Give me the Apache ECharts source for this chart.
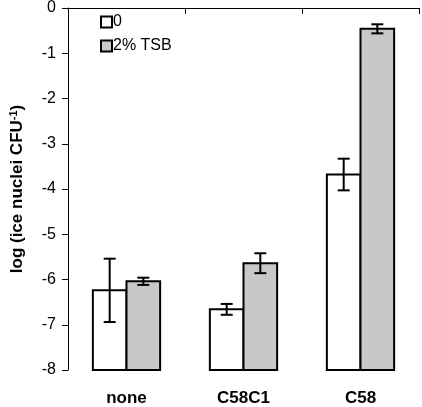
<!DOCTYPE html>
<html><head><meta charset="utf-8">
<script src="https://cdn.jsdelivr.net/npm/echarts@6/dist/echarts.min.js"></script>
<style>html,body{margin:0;padding:0;background:#fff}#c{width:422px;height:407px}</style>
</head><body><div id="c"></div>
<script>
var categories = ['none', 'C58C1', 'C58'];
var seriesNames = ['0', '2% TSB'];
var meanZero = [-6.24, -6.66, -3.68];
var errZero = [0.70, 0.12, 0.35];
var meanTSB = [-6.04, -5.64, -0.46];
var errTSB = [0.08, 0.22, 0.10];
var yTicks = { min: -8, max: 0, interval: 1 };

var chart = echarts.init(document.getElementById('c'), null, { renderer: 'canvas' });
function makeSeries(name, means, errs, idx, fill) {
  var data = means.map(function (m, i) { return [i, m, errs[i]]; });
  return {
    type: 'custom', name: name, data: data, clip: false,
    itemStyle: { color: fill, borderColor: '#000', borderWidth: 2 },
    renderItem: function (params, api) {
      var cat = api.value(0), val = api.value(1), err = api.value(2);
      var top = api.coord([cat, val]);
      var base = api.coord([cat, yTicks.min]);
      var band = api.size([1, 0])[0];
      var bw = band * 0.2875;
      var x0 = idx === 0 ? top[0] - bw : top[0];
      var cx = x0 + bw / 2;
      var eTop = api.coord([cat, val + err])[1];
      var eBot = api.coord([cat, val - err])[1];
      var cap = 6;
      var ls = { stroke: '#000', lineWidth: 2 };
      return {
        type: 'group', children: [
          { type: 'rect', shape: { x: x0, y: top[1], width: bw, height: base[1] - top[1] },
            style: { fill: fill, stroke: '#000', lineWidth: 2 } },
          { type: 'line', shape: { x1: cx, y1: eTop, x2: cx, y2: eBot }, style: ls },
          { type: 'line', shape: { x1: cx - cap, y1: eTop, x2: cx + cap, y2: eTop }, style: ls },
          { type: 'line', shape: { x1: cx - cap, y1: eBot, x2: cx + cap, y2: eBot }, style: ls }
        ]
      };
    }
  };
}
chart.setOption({
  animation: false,
  textStyle: { fontFamily: 'Liberation Sans, Arial, sans-serif' },
  grid: { left: 59, right: 3, top: 8, bottom: 34 },
  legend: {
    left: 100, top: 14, orient: 'vertical', itemWidth: 11, itemHeight: 11, itemGap: 8,
    icon: 'rect', padding: 0,
    textStyle: { fontSize: 16, lineHeight: 16, color: '#000', padding: [0, 0, 0, -4] },
    data: [
      { name: seriesNames[0], itemStyle: { color: '#fff', borderColor: '#000', borderWidth: 2 } },
      { name: seriesNames[1], itemStyle: { color: '#c8c8c8', borderColor: '#000', borderWidth: 2 } }
    ]
  },
  xAxis: {
    type: 'category', data: categories, boundaryGap: true,
    axisLine: { lineStyle: { color: '#000', width: 1 } },
    axisTick: { show: true, length: 6, lineStyle: { color: '#000' } },
    axisLabel: { fontSize: 17, fontWeight: 'bold', color: '#000', margin: 20 }
  },
  yAxis: {
    type: 'value', min: yTicks.min, max: yTicks.max, interval: yTicks.interval,
    axisLine: { show: true, lineStyle: { color: '#000', width: 1 } },
    axisTick: { show: true, length: 6, lineStyle: { color: '#000' } },
    splitLine: { show: false },
    axisLabel: { fontSize: 16, color: '#000', margin: 12 },
    name: 'log (ice nuclei CFU{sup|-1})',
    nameLocation: 'middle', nameGap: 41, nameRotate: 90,
    nameTextStyle: {
      fontSize: 17, fontWeight: 'bold', color: '#000',
      rich: { sup: { fontSize: 11, fontWeight: 'bold', color: '#000', verticalAlign: 'top', padding: [0, 0, 8, 0] } }
    }
  },
  series: [
    makeSeries(seriesNames[0], meanZero, errZero, 0, '#fff'),
    makeSeries(seriesNames[1], meanTSB, errTSB, 1, '#c8c8c8')
  ]
});
</script></body></html>
